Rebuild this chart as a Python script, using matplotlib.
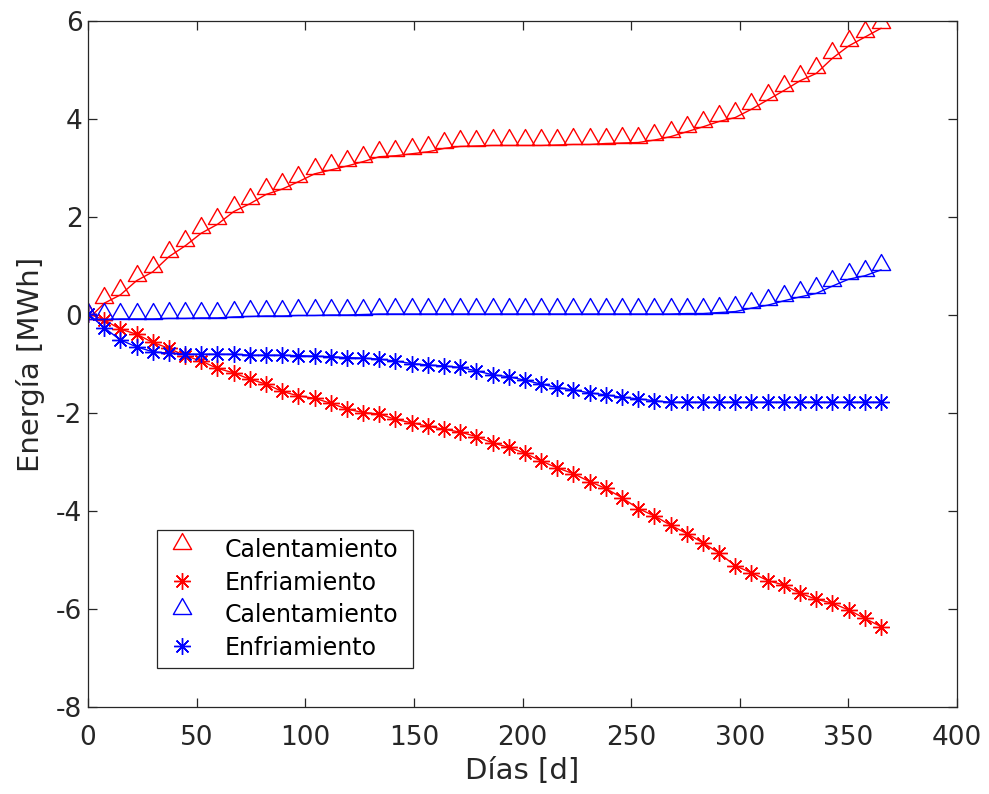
import numpy as np
import matplotlib.pyplot as plt
from matplotlib.path import Path

plt.rcParams['font.family'] = ['DejaVu Sans']
plt.rcParams['axes.unicode_minus'] = False

# Data (50 equally spaced days over the year)
dias = np.linspace(0, 365, 50)

cal_rojo = [-0.09, 0.24, 0.41, 0.70, 0.88, 1.19, 1.41, 1.67, 1.85, 2.11,
            2.27, 2.46, 2.57, 2.72, 2.88, 2.96, 3.04, 3.13, 3.23, 3.25,
            3.29, 3.33, 3.40, 3.44, 3.45, 3.46, 3.46, 3.46, 3.46, 3.47,
            3.48, 3.48, 3.50, 3.51, 3.52, 3.57, 3.64, 3.74, 3.84, 3.95,
            4.03, 4.20, 4.39, 4.58, 4.78, 4.93, 5.24, 5.49, 5.67, 5.85]

enf_rojo = [0.03, -0.10, -0.29, -0.39, -0.56, -0.68, -0.83, -0.94, -1.09, -1.18,
            -1.31, -1.41, -1.56, -1.65, -1.70, -1.80, -1.92, -1.99, -2.02, -2.13,
            -2.20, -2.27, -2.33, -2.39, -2.48, -2.61, -2.70, -2.82, -2.98, -3.12,
            -3.24, -3.40, -3.54, -3.73, -3.95, -4.10, -4.29, -4.46, -4.65, -4.86,
            -5.12, -5.26, -5.42, -5.51, -5.68, -5.80, -5.88, -6.02, -6.19, -6.36]

cal_azul = [-0.09, -0.09, -0.08, -0.08, -0.08, -0.07, -0.07, -0.06, -0.06, -0.04,
            -0.03, -0.02, -0.02, -0.01, -0.01, 0.00, 0.00, 0.01, 0.02, 0.02,
            0.02, 0.02, 0.02, 0.02, 0.02, 0.02, 0.02, 0.02, 0.02, 0.02,
            0.02, 0.02, 0.02, 0.02, 0.02, 0.02, 0.02, 0.03, 0.03, 0.05,
            0.07, 0.14, 0.20, 0.29, 0.37, 0.44, 0.59, 0.73, 0.80, 0.92]

enf_azul = [0.03, -0.26, -0.51, -0.65, -0.75, -0.78, -0.80, -0.80, -0.80, -0.80,
            -0.82, -0.82, -0.82, -0.83, -0.84, -0.85, -0.87, -0.88, -0.90, -0.94,
            -0.99, -1.02, -1.04, -1.07, -1.14, -1.22, -1.26, -1.33, -1.41, -1.48,
            -1.53, -1.59, -1.63, -1.68, -1.71, -1.75, -1.78, -1.78, -1.78, -1.78,
            -1.78, -1.78, -1.78, -1.78, -1.78, -1.78, -1.78, -1.78, -1.78, -1.78]

etiquetas = ['Calentamiento', 'Enfriamiento', 'Calentamiento', 'Enfriamiento']

# triangle with its base on the data point, asterisk with 8 spokes
tri = Path([(-1, 0), (1, 0), (0, 1.75), (-1, 0)],
           [Path.MOVETO, Path.LINETO, Path.LINETO, Path.CLOSEPOLY])
ast = (8, 2, 0)

fig = plt.figure(figsize=(9.89, 7.94), dpi=100)
ax = fig.add_axes([88 / 989, 87 / 794, 869 / 989, 686 / 794])

series = [(cal_rojo, 'red', tri, 23), (enf_rojo, 'red', ast, 12),
          (cal_azul, 'blue', tri, 23), (enf_azul, 'blue', ast, 12)]
for (y, c, m, s), lab in zip(series, etiquetas):
    ax.plot(dias, y, color=c, lw=1.0)
    ax.plot(dias, y, ls='none', marker=m, ms=s, mfc='none', mec=c,
            mew=1.0, label=lab)

ax.set_xlim(0, 400)
ax.set_ylim(-8, 6)
ax.set_xticks(np.arange(0, 401, 50))
ax.set_yticks(np.arange(-8, 7, 2))

dark = '#262626'
for sp in ax.spines.values():
    sp.set_color(dark)
    sp.set_linewidth(0.9)
ax.tick_params(direction='in', top=True, right=True, length=6.5, width=0.9,
               color=dark, labelcolor=dark, labelsize=19)
ax.tick_params(axis='x', pad=13)
ax.tick_params(axis='y', pad=4)

ax.set_xlabel('Días [d]', fontsize=21, color=dark, labelpad=4)
ax.set_ylabel('Energía [MWh]', fontsize=21, color=dark, labelpad=8)

leg = ax.legend(loc='lower left', bbox_to_anchor=(0.0794, 0.0569, 0.2946, 0.2),
                mode='expand', borderaxespad=0, fontsize=17, fancybox=False,
                edgecolor=dark, framealpha=1, handlelength=1.4,
                handletextpad=1.1, labelspacing=0.36, borderpad=0.35)
leg.get_frame().set_linewidth(0.9)

fig.savefig('out.png', dpi=100)
